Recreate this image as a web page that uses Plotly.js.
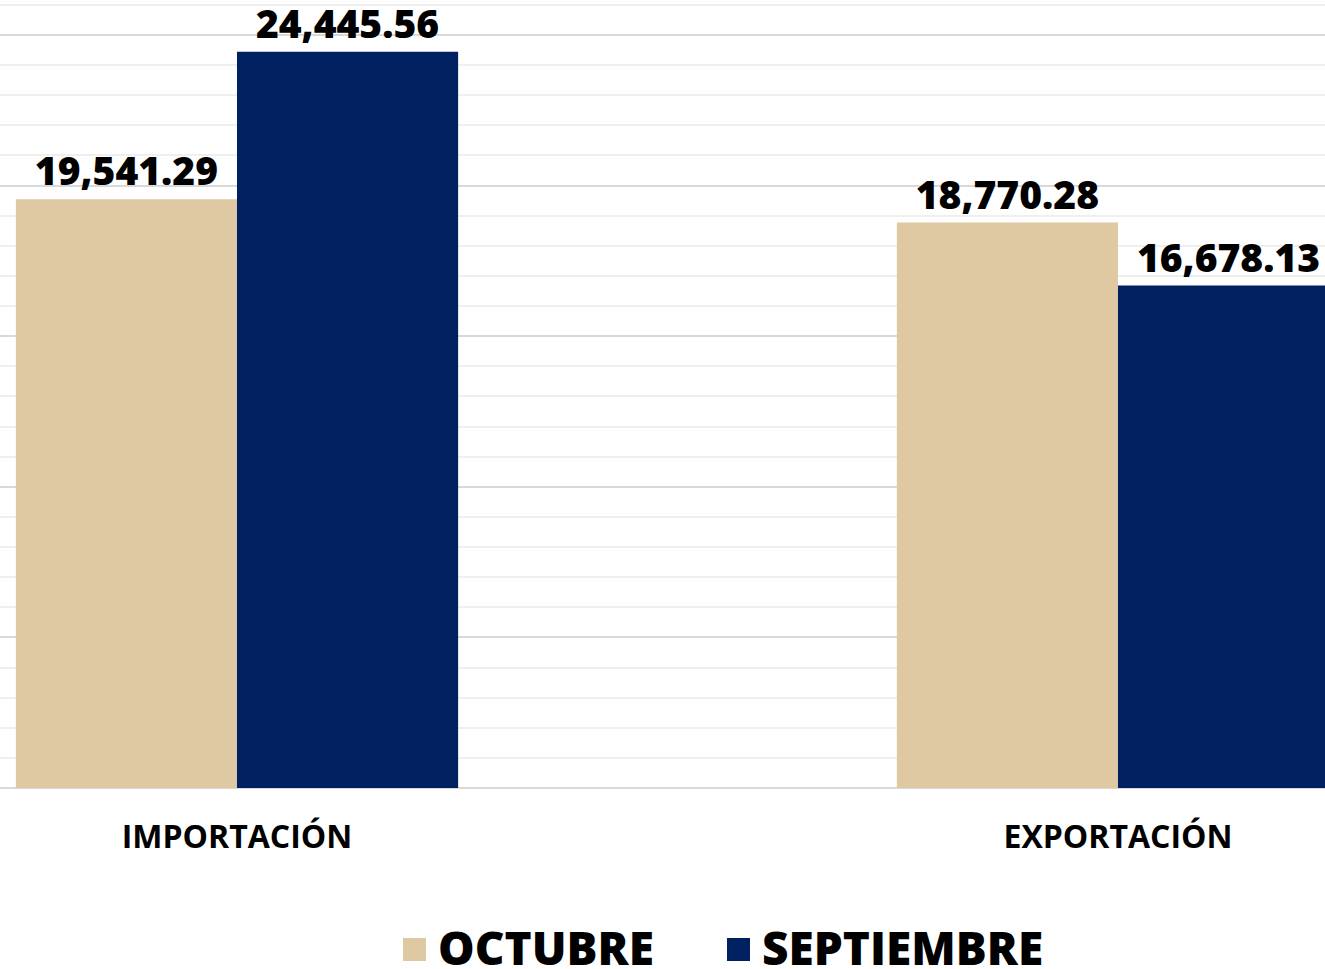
<!DOCTYPE html>
<html>
<head>
<meta charset="utf-8">
<script src="https://cdn.plot.ly/plotly-3.0.1.min.js"></script>
<style>html,body{margin:0;padding:0;background:#fff;}#chart{width:1325px;height:969px;}</style>
</head>
<body>
<div id="chart"></div>
<script>
const categories = ["IMPORTACIÓN", "EXPORTACIÓN"];
const seriesNames = ["OCTUBRE", "SEPTIEMBRE"];
const octubre = [19541.29, 18770.28];
const septiembre = [24445.56, 16678.13];
const colors = ["#DFC9A2", "#002060"];

const labelFont = {family: "Open Sans", size: 39, color: "#000", weight: 800};

const traces = [octubre, septiembre].map((vals, i) => ({
  type: "bar",
  name: seriesNames[i],
  x: categories,
  y: vals,
  marker: {color: colors[i], line: {width: 0}},
  texttemplate: "%{y:,.2f}",
  textposition: "outside",
  textfont: labelFont,
  cliponaxis: false,
  showlegend: false,
  hoverinfo: "skip"
}));

// custom legend (large square swatches)
const legendX = [403, 727];
const shapes = [];
const annotations = [];
seriesNames.forEach((n, i) => {
  shapes.push({type: "rect", xref: "paper", yref: "paper",
    x0: legendX[i] / 1325, x1: (legendX[i] + 23) / 1325,
    y0: -(961 - 788) / 788, y1: -(938 - 788) / 788,
    fillcolor: colors[i], line: {width: 0}});
  annotations.push({xref: "paper", yref: "paper", x: (legendX[i] + 33) / 1325,
    y: -(947 - 788) / 788, xanchor: "left", yanchor: "middle", showarrow: false,
    text: n, font: {family: "Open Sans", size: 46, color: "#000", weight: 800}});
});

const layout = {
  width: 1325, height: 969,
  margin: {l: 0, r: 0, t: 0, b: 181, pad: 0},
  paper_bgcolor: "#fff", plot_bgcolor: "#fff",
  barmode: "group",
  bargap: 0.498,
  bargroupgap: 0,
  xaxis: {
    range: [-0.269, 1.235],
    showgrid: false, zeroline: false, showline: false, ticks: "",
    tickfont: {family: "Open Sans", size: 32, color: "#000", weight: 700},
    ticklabelstandoff: 27
  },
  yaxis: {
    range: [0, 26160],
    dtick: 5000,
    showticklabels: false, ticks: "",
    gridcolor: "#d9d9d9", gridwidth: 2,
    zeroline: true, zerolinecolor: "#d9d9d9", zerolinewidth: 2,
    minor: {dtick: 1000, showgrid: true, gridcolor: "#efefef", gridwidth: 2}
  },
  shapes: shapes,
  annotations: annotations
};

Plotly.newPlot("chart", traces, layout, {displayModeBar: false, staticPlot: true});
</script>
</body>
</html>
